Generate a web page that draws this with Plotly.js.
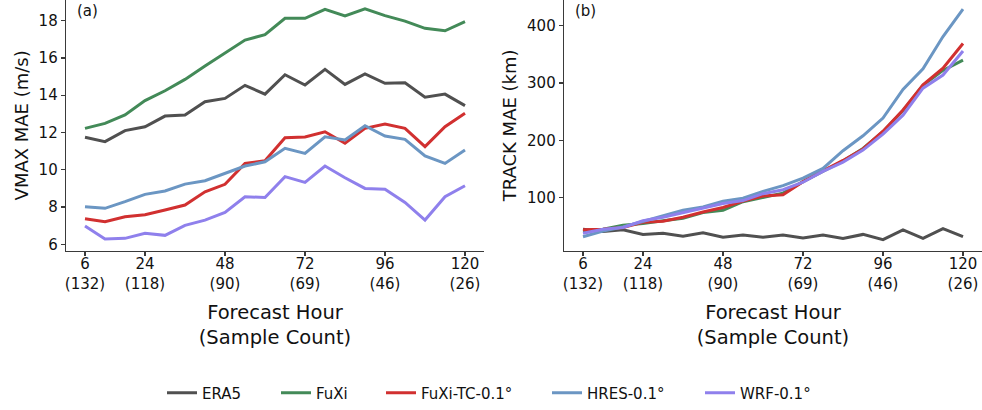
<!DOCTYPE html>
<html>
<head>
<meta charset="utf-8">
<script src="https://cdn.plot.ly/plotly-3.0.1.min.js"></script>
<style>html,body{margin:0;padding:0;background:#fff;}#chart{width:982px;height:410px;}</style>
</head>
<body>
<div id="chart"></div>
<script>
// Forecast hours (6-hourly, 6 to 120)
const hours = [6,12,18,24,30,36,42,48,54,60,66,72,78,84,90,96,102,108,114,120];
const tickHours = [6,24,48,72,96,120];
const tickLabels = ["6<br>(132)","24<br>(118)","48<br>(90)","72<br>(69)","96<br>(46)","120<br>(26)"];
const seriesNames = ["ERA5","FuXi","FuXi-TC-0.1°","HRES-0.1°","WRF-0.1°"];
const seriesColors = ["#505050","#438a58","#d13030","#6b96c3","#8f80ec"];

// VMAX MAE (m/s)
const vmaxERA5   = [11.74,11.51,12.10,12.31,12.88,12.94,13.65,13.83,14.53,14.06,15.10,14.55,15.39,14.58,15.14,14.64,14.67,13.89,14.06,13.44];
const vmaxFuXi   = [12.22,12.49,12.94,13.71,14.24,14.85,15.57,16.28,16.96,17.25,18.13,18.13,18.61,18.25,18.64,18.27,17.98,17.59,17.46,17.95];
const vmaxFuXiTC = [7.37,7.21,7.48,7.59,7.84,8.11,8.82,9.22,10.34,10.48,11.72,11.76,12.04,11.42,12.22,12.45,12.22,11.24,12.31,13.03];
const vmaxHRES   = [8.02,7.93,8.29,8.68,8.86,9.23,9.41,9.81,10.20,10.43,11.15,10.88,11.77,11.60,12.36,11.81,11.63,10.74,10.34,11.06];
const vmaxWRF    = [6.98,6.28,6.32,6.59,6.48,7.02,7.30,7.71,8.55,8.51,9.63,9.32,10.20,9.57,9.00,8.96,8.25,7.30,8.55,9.14];

// TRACK MAE (km)
const trackERA5   = [45,41,44,36,38,33,39,31,35,31,35,30,35,29,36,27,44,29,46,32];
const trackFuXi   = [42,45,52,55,60,64,74,78,93,101,108,128,146,164,186,215,252,296,322,340];
const trackFuXiTC = [44,45,48,57,59,66,75,83,94,103,105,128,147,165,185,216,253,297,326,369];
const trackHRES   = [32,42,49,59,68,78,84,94,99,111,121,134,151,182,208,239,289,325,381,429];
const trackWRF    = [38,45,48,60,66,74,81,90,95,107,114,127,146,162,183,211,244,291,314,356];

const vmaxSeries = [vmaxERA5, vmaxFuXi, vmaxFuXiTC, vmaxHRES, vmaxWRF];
const trackSeries = [trackERA5, trackFuXi, trackFuXiTC, trackHRES, trackWRF];

// one legend per series so the entries can be spread like the reference
const legendIds = ["legend","legend2","legend3","legend4","legend5"];
const legendStartPx = [168, 282, 387, 553, 706];

const traces = [];
vmaxSeries.forEach((ys, i) => {
  traces.push({x: hours, y: ys, type: "scatter", mode: "lines", name: seriesNames[i],
    line: {color: seriesColors[i], width: 3}, xaxis: "x", yaxis: "y", legend: legendIds[i], showlegend: true});
});
trackSeries.forEach((ys, i) => {
  traces.push({x: hours, y: ys, type: "scatter", mode: "lines", name: seriesNames[i],
    line: {color: seriesColors[i], width: 3}, xaxis: "x2", yaxis: "y2", showlegend: false});
});

const FONT = "DejaVu Sans, sans-serif";
const axisCommon = {
  showline: true, linecolor: "#3a3a3a", linewidth: 1.3, ticks: "outside", ticklen: 4, tickwidth: 1.2,
  tickcolor: "#3a3a3a", showgrid: false, zeroline: false, tickfont: {family: FONT, size: 15, color: "#111"}
};
const xCommon = Object.assign({}, axisCommon, {
  range: [0.3, 125.7], tickmode: "array", tickvals: tickHours, ticktext: tickLabels, ticklabelstandoff: -5,
  title: {text: "Forecast Hour<br>(Sample Count)", font: {family: FONT, size: 19.5, color: "#111"}, standoff: 13}
});

const layout = {
  width: 982, height: 410,
  margin: {l: 0, r: 0, t: 0, b: 0},
  paper_bgcolor: "#fff", plot_bgcolor: "#fff",
  font: {family: FONT, color: "#111"},
  xaxis: Object.assign({}, xCommon, {domain: [66/982, 484/982], anchor: "y"}),
  xaxis2: Object.assign({}, xCommon, {domain: [564/982, 1], anchor: "y2"}),
  yaxis: Object.assign({}, axisCommon, {domain: [1 - 250.7/410, 1], anchor: "x", range: [5.657, 19.11],
    tickvals: [6,8,10,12,14,16,18], title: {text: "VMAX MAE (m/s)", font: {family: FONT, size: 18, color: "#111"}, standoff: 5}}),
  yaxis2: Object.assign({}, axisCommon, {domain: [1 - 250.7/410, 1], anchor: "x2", range: [7.6, 444.8],
    tickvals: [100,200,300,400], title: {text: "TRACK MAE (km)", font: {family: FONT, size: 18, color: "#111"}, standoff: 5}}),
  annotations: [
    {text: "(a)", xref: "paper", yref: "paper", x: 75/982, y: 1 - 11/410, xanchor: "left", yanchor: "middle", showarrow: false,
      font: {family: FONT, size: 15, color: "#111"}},
    {text: "(b)", xref: "paper", yref: "paper", x: 573/982, y: 1 - 11/410, xanchor: "left", yanchor: "middle", showarrow: false,
      font: {family: FONT, size: 15, color: "#111"}}
  ],
  showlegend: true
};
legendIds.forEach((id, i) => {
  layout[id] = {orientation: "h", x: (legendStartPx[i] - 6) / 982, xanchor: "left", y: 17/410, yanchor: "middle",
    font: {family: FONT, size: 15, color: "#111"}, itemwidth: 30, bgcolor: "rgba(0,0,0,0)", borderwidth: 0};
});

Plotly.newPlot("chart", traces, layout, {displayModeBar: false, staticPlot: true});
</script>
</body>
</html>
